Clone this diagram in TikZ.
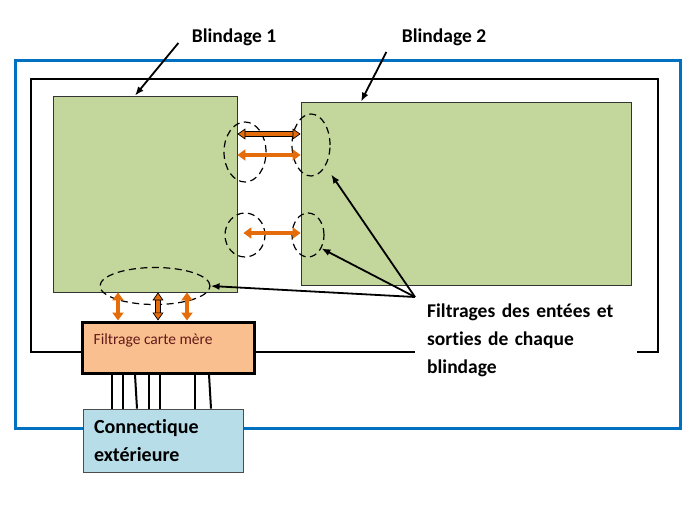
\documentclass[tikz,border=0pt]{standalone}
\usepackage{fontspec}
\setmainfont{Carlito}[Ligatures={NoCommon,NoRare}]
\usetikzlibrary{shapes.geometric, arrows, arrows.meta, positioning}
\definecolor{shieldblue}{RGB}{0,112,192}
\definecolor{lgreen}{RGB}{195,214,155}
\definecolor{lorange}{RGB}{250,191,143}
\definecolor{lcyan}{RGB}{183,221,232}
\definecolor{dorange}{RGB}{228,108,10}
\definecolor{textred}{RGB}{100,25,25}
\tikzstyle{shield} = [rectangle, draw=black!80, line width=0.8pt, fill=lgreen, inner sep=0]
\tikzstyle{mbbox} = [rectangle, draw=black, line width=3pt, fill=lorange, inner sep=0]
\tikzstyle{extbox} = [rectangle, draw=black!70, line width=0.8pt, fill=lcyan,
text width=138pt, inner xsep=11pt, align=left,
font=\bfseries\fontsize{20}{28}\selectfont]
\tikzstyle{filt} = [ellipse, draw, line width=1.2pt, dash pattern=on 7pt off 4.5pt, inner sep=0]
\tikzstyle{title} = [font=\bfseries\fontsize{19.5}{22}\selectfont]
\tikzstyle{note} = [fill=white, text width=198pt, inner xsep=12pt, inner ysep=7pt, align=left,
font=\bfseries\fontsize{19.5}{28}\selectfont]
\tikzstyle{callout} = [line width=1.8pt, ->, >={Latex[length=9pt,width=7pt]}]
\tikzstyle{flow} = [line width=4pt, draw=dorange,
{Triangle[width=11pt,length=8pt]}-{Triangle[width=11pt,length=8pt]}]
\tikzstyle{flowline} = [line width=4pt, draw=dorange,
{Triangle[width=11pt,length=8pt,line width=0.7pt,color=black,fill=dorange]}-{Triangle[width=11pt,length=8pt,line width=0.7pt,color=black,fill=dorange]}]
\tikzstyle{flowedge} = [line width=5.4pt, draw=black, shorten <=7pt, shorten >=7pt]
\tikzstyle{wire} = [line width=2pt]

\begin{document}
\begin{tikzpicture}[x=1pt, y=-1pt]
    \useasboundingbox (0,0) rectangle (700,508);
    % outer and inner enclosures
    \draw[shieldblue, line width=3pt] (15,61) rectangle (680,428);
    \draw[line width=2.5pt] (31,79) rectangle (658,352);

    \node (b1) [shield, minimum width=184pt, minimum height=196pt] at (145,194) {};
    \node (b2) [shield, minimum width=330pt, minimum height=183pt] at (466,193.5) {};
    \node (fm) [mbbox, minimum width=172pt, minimum height=51pt,
        label={[anchor=west, inner sep=0, xshift=13pt, yshift=7.5pt,
        text=textred, font=\fontsize{15.5}{18}\selectfont]west:Filtrage carte mère}]
        at (168,347.5) {};
    \node (ce) [extbox, minimum height=63pt] at (163,440.5)
        {Connectique\\extérieure};
    \node (fo) [note, anchor=north west] at (415,297)
        {Filtrages des entées et\\sorties de chaque\\blindage};

    \foreach \xa/\xb in {112/112,123/123,135/137,149/149,160/160,195/195,209/211}
        \draw[wire] (fm.south -| \xa,0) -- (ce.north -| \xb,0);

    % filtering zones
    \node (e1) [filt, minimum width=42pt, minimum height=60pt] at (245,152) {};
    \node (e2) [filt, minimum width=38pt, minimum height=62pt] at (311,145) {};
    \node (e3) [filt, minimum width=40pt, minimum height=44pt] at (245,235) {};
    \node (e4) [filt, minimum width=32pt, minimum height=44pt] at (308,235) {};
    \node (e5) [filt, minimum width=110pt, minimum height=37pt] at (155,286) {};

    \draw[flowedge] (b1.east |- 0,134) -- (b2.west |- 0,134);
    \draw[flowline] (b1.east |- 0,134) -- (b2.west |- 0,134);
    \draw[flow] (b1.east |- 0,155) -- (b2.west |- 0,155);
    \draw[flow, shorten <=6pt] (b1.east |- 0,233) -- (b2.west |- 0,233);
    \draw[flow] (b1.south -| 118,0) -- (fm.north -| 118,0);
    \draw[flowedge] (b1.south -| 158,0) -- (fm.north -| 158,0);
    \draw[flowline] (b1.south -| 158,0) -- (fm.north -| 158,0);
    \draw[flow] (b1.south -| 187,0) -- (fm.north -| 187,0);

    % labels
    \node (l1) [title] at (234,37) {Blindage 1};
    \node (l2) [title] at (444,37) {Blindage 2};
    \draw[callout] ([xshift=-10pt, yshift=-6pt]l1.west) -- (b1.north -| 135,0);
    \draw[callout] ([xshift=-12pt, yshift=-15pt]l2.west) -- (b2.north -| 361,0);
    \draw[callout, shorten >=10pt] (fo.north west) -- (e2);
    \draw[callout] (fo.north west) -- (e4.-45);
    \draw[callout] (fo.north west) -- (e5.east);
\end{tikzpicture}
\end{document}
